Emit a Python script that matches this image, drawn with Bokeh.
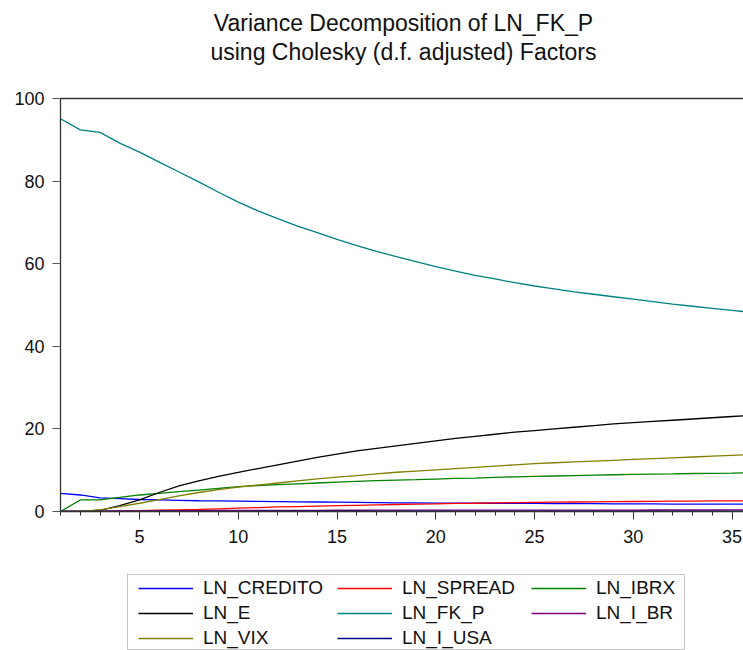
from bokeh.plotting import figure
from bokeh.layouts import column
from bokeh.models import (Range1d, SingleIntervalTicker, FixedTicker, LinearAxis,
                          Legend, LegendItem, Label, BoxAnnotation)
from bokeh.embed import file_html
from bokeh.resources import INLINE

# ---------------- data ----------------
horizon = list(range(1, 37))
ln_credito = [4.4, 4.0, 3.3, 3.1, 2.9, 2.8, 2.7, 2.6, 2.55, 2.5, 2.45, 2.4, 2.35, 2.3, 2.25, 2.2,
              2.15, 2.1, 2.1, 2.05, 2.05, 2.0, 2.0, 1.95, 1.95, 1.9, 1.9, 1.9, 1.85, 1.85, 1.85,
              1.8, 1.8, 1.8, 1.8, 1.8]
ln_spread = [0.0, 0.02, 0.05, 0.12, 0.2, 0.3, 0.4, 0.5, 0.65, 0.8, 0.95, 1.1, 1.2, 1.3, 1.4, 1.5,
             1.6, 1.7, 1.8, 1.85, 1.95, 2.0, 2.1, 2.15, 2.2, 2.25, 2.3, 2.35, 2.4, 2.42, 2.45,
             2.5, 2.52, 2.55, 2.58, 2.6]
ln_ibrx = [0.0, 2.8, 2.8, 3.4, 4.0, 4.4, 4.8, 5.2, 5.6, 6.0, 6.3, 6.5, 6.7, 6.9, 7.1, 7.3,
           7.5, 7.6, 7.7, 7.85, 8.0, 8.1, 8.25, 8.4, 8.5, 8.6, 8.7, 8.8, 8.9, 9.0, 9.05,
           9.1, 9.2, 9.25, 9.3, 9.4]
ln_e = [0.0, 0.05, 0.3, 1.4, 2.8, 4.6, 6.2, 7.4, 8.5, 9.5, 10.4, 11.3, 12.2, 13.1, 13.9, 14.7,
        15.3, 15.9, 16.5, 17.1, 17.7, 18.2, 18.7, 19.2, 19.6, 20.0, 20.4, 20.8, 21.2, 21.5, 21.8,
        22.1, 22.4, 22.7, 23.0, 23.3]
ln_fk_p = [95.1, 92.4, 91.8, 89.2, 87.0, 84.6, 82.2, 79.8, 77.3, 74.9, 72.8, 70.9, 69.1, 67.5, 65.9, 64.4,
           63.0, 61.7, 60.5, 59.3, 58.2, 57.2, 56.3, 55.4, 54.6, 53.9, 53.2, 52.6, 52.0, 51.4, 50.8,
           50.2, 49.7, 49.2, 48.7, 48.2]
ln_i_br = [0.0, 0.05, 0.1, 0.13, 0.16, 0.18, 0.2, 0.22, 0.24, 0.25, 0.26, 0.27, 0.28, 0.29, 0.3, 0.3,
           0.31, 0.31, 0.32, 0.32, 0.33, 0.33, 0.33, 0.34, 0.34, 0.34, 0.35, 0.35, 0.35, 0.35, 0.36,
           0.36, 0.36, 0.36, 0.37, 0.37]
ln_vix = [0.0, 0.05, 0.4, 1.2, 2.0, 2.9, 3.8, 4.6, 5.3, 5.9, 6.4, 6.9, 7.4, 7.9, 8.3, 8.7,
          9.1, 9.5, 9.8, 10.1, 10.4, 10.7, 11.0, 11.3, 11.6, 11.8, 12.0, 12.2, 12.4, 12.6, 12.8,
          13.0, 13.2, 13.4, 13.6, 13.8]
ln_i_usa = [0.0, 0.01, 0.02, 0.03, 0.03, 0.04, 0.04, 0.05, 0.05, 0.05, 0.06, 0.06, 0.06, 0.06, 0.07, 0.07,
            0.07, 0.07, 0.07, 0.07, 0.08, 0.08, 0.08, 0.08, 0.08, 0.08, 0.08, 0.08, 0.08, 0.08, 0.08,
            0.08, 0.08, 0.08, 0.08, 0.08]

series_names = ["LN_CREDITO", "LN_SPREAD", "LN_IBRX", "LN_E", "LN_FK_P", "LN_I_BR", "LN_VIX", "LN_I_USA"]
series_values = [ln_credito, ln_spread, ln_ibrx, ln_e, ln_fk_p, ln_i_br, ln_vix, ln_i_usa]
series_colors = ["#0000FF", "#FF0000", "#008000", "#000000", "#008080", "#800080", "#808000", "#000080"]

title_lines = ["Variance Decomposition of LN_FK_P", "using Cholesky (d.f. adjusted) Factors"]

FONT = "Liberation Sans"
W = 743
LEFT = 60  # frame left edge shared by the stacked figures


def blank_fig(h):
    f = figure(width=W, height=h, output_backend="svg", toolbar_location=None, title=None,
               x_range=Range1d(0, 1), y_range=Range1d(0, 1),
               min_border_left=0, min_border_right=0, min_border_top=0, min_border_bottom=0,
               x_axis_type=None, y_axis_type=None)
    f.xgrid.visible = False
    f.ygrid.visible = False
    f.outline_line_color = None
    f.background_fill_color = "white"
    f.border_fill_color = "white"
    return f


# ---------------- title strip ----------------
p_title = blank_fig(70)
for txt, yy in zip(title_lines, [48, 19]):
    p_title.add_layout(Label(x=403 - LEFT, y=yy, x_units="screen", y_units="screen", text=txt,
                             text_align="center", text_baseline="alphabetic",
                             text_font=FONT, text_font_size="23px", text_color="#111111"))

# ---------------- main chart ----------------
p = figure(width=W, height=482, output_backend="svg", toolbar_location=None, title=None,
           x_range=Range1d(1, 35.58), y_range=Range1d(0, 100),
           min_border_left=LEFT, min_border_right=0, min_border_top=28, min_border_bottom=41,
           x_axis_type=None, y_axis_type=None)
p.xgrid.visible = False
p.ygrid.visible = False
p.outline_line_color = None
p.background_fill_color = "white"
p.border_fill_color = "white"

axis_col = "#333333"

xaxis = LinearAxis(ticker=SingleIntervalTicker(interval=5, num_minor_ticks=5))
xaxis.axis_line_color = axis_col
xaxis.axis_line_width = 1.3
xaxis.major_tick_line_color = axis_col
xaxis.major_tick_in = 0
xaxis.major_tick_out = 8
xaxis.minor_tick_line_color = axis_col
xaxis.minor_tick_in = 0
xaxis.minor_tick_out = 4
xaxis.major_label_text_font = FONT
xaxis.major_label_text_font_size = "18px"
xaxis.major_label_text_color = "#111111"
xaxis.major_label_standoff = 10
p.add_layout(xaxis, "below")

yaxis = LinearAxis(ticker=SingleIntervalTicker(interval=20, num_minor_ticks=0))
yaxis.axis_line_color = axis_col
yaxis.axis_line_width = 1.3
yaxis.major_tick_line_color = "#555555"
yaxis.major_tick_in = 0
yaxis.major_tick_out = 8
yaxis.minor_tick_line_color = None
yaxis.major_label_text_font = FONT
yaxis.major_label_text_font_size = "18px"
yaxis.major_label_text_color = "#111111"
yaxis.major_label_standoff = 8
p.add_layout(yaxis, "left")

top_axis = LinearAxis(ticker=FixedTicker(ticks=[]))
top_axis.axis_line_color = axis_col
top_axis.axis_line_width = 1.3
top_axis.major_tick_line_color = None
top_axis.minor_tick_line_color = None
top_axis.major_label_text_color = None
p.add_layout(top_axis, "above")

for name, vals, col in zip(series_names, series_values, series_colors):
    p.line(horizon, vals, line_color=col, line_width=1.3)

# ---------------- legend strip ----------------
p_leg = blank_fig(98)
proxies = {}
for name, vals, col in zip(series_names, series_values, series_colors):
    # one-point proxy (draws nothing in the strip) so the legend has a styled glyph
    proxies[name] = p_leg.line(x=[horizon[0]], y=[vals[0]], line_color=col, line_width=1.3)

box = BoxAnnotation(left=127 - LEFT, right=684 - LEFT, top=76, bottom=1,
                    left_units="screen", right_units="screen", top_units="screen", bottom_units="screen",
                    fill_color=None, fill_alpha=0, line_color="#404040", line_width=1)
p_leg.add_layout(box)

legend_columns = [["LN_CREDITO", "LN_E", "LN_VIX"],
                  ["LN_SPREAD", "LN_FK_P", "LN_I_USA"],
                  ["LN_IBRX", "LN_I_BR"]]
col_x = [138, 337, 531]
for names, cx in zip(legend_columns, col_x):
    items = [LegendItem(label=n, renderers=[proxies[n]]) for n in names]
    h = len(names) * 24 + (len(names) - 1) * 1
    lg = Legend(items=items, location=(cx - LEFT, 74 - h), orientation="vertical",
                padding=0, margin=0, spacing=1, glyph_width=55, glyph_height=24,
                label_height=24, label_standoff=10,
                label_text_font=FONT, label_text_font_size="19px", label_text_color="#111111",
                border_line_color=None, background_fill_alpha=0)
    p_leg.add_layout(lg, "center")

layout = column(p_title, p, p_leg, spacing=0)
open("out.html", "w").write(file_html(layout, INLINE))
